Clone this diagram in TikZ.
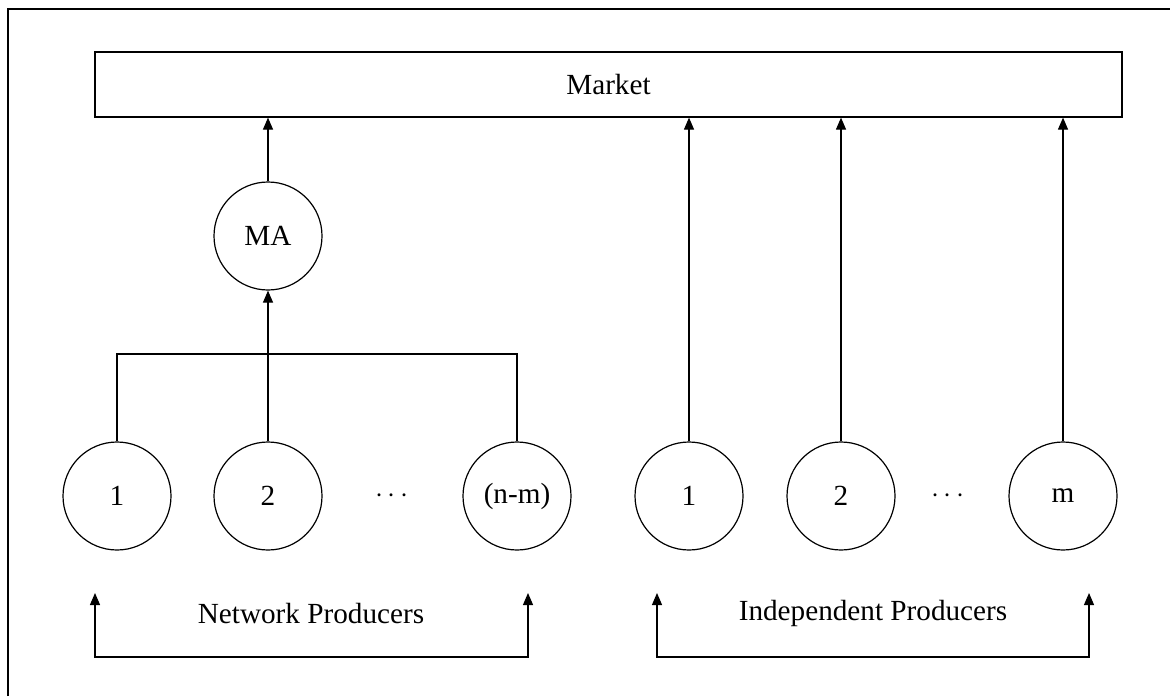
\documentclass[tikz,border=0pt]{standalone}
\usepackage{fontspec}
\setmainfont{Liberation Serif}
\usetikzlibrary{arrows.meta}
\tikzset{
  marketbox/.style={rectangle, draw, line width=0.6pt, minimum width=513.5pt, minimum height=32.5pt, inner sep=0pt, font=\fontsize{14.6}{16}\selectfont},
  agentnode/.style={circle, draw, line width=0.6pt, minimum size=54pt, inner sep=0pt, font=\fontsize{14.6}{16}\selectfont},
  plainlabel/.style={font=\fontsize{14.6}{16}\selectfont, inner sep=0pt},
  link/.style={line width=0.6pt},
  arrow/.style={-{Triangle[length=6pt,width=5pt]}, line width=0.6pt},
  bothways/.style={{Triangle[length=6pt,width=5pt]}-{Triangle[length=6pt,width=5pt]}, line width=0.6pt}
}
\begin{document}
\begin{tikzpicture}[x=0.5pt, y=-0.5pt]
  \useasboundingbox (0,0) rectangle (1170,696);
  % frame
  \draw[line width=1pt] (8,696) -- (8,9) -- (1170,9);

  % market and aggregator
  \node[marketbox] (market) at (608.5,84.5) {Market};
  \node[agentnode] (ma) at (268,236) {MA};

  % network producers
  \node[agentnode] (net1) at (117,496) {1};
  \node[agentnode] (net2) at (268,496) {2};
  \node[plainlabel] (netdots) at (392,496) {$\cdots$};
  \node[agentnode] (netnm) at (517,496) {(n-m)};

  % independent producers
  \node[agentnode] (ind1) at (689,496) {1};
  \node[agentnode] (ind2) at (841,496) {2};
  \node[plainlabel] (inddots) at (948,496) {$\cdots$};
  \node[agentnode] (indm) at (1063,496) {m};

  % links to the market
  \draw[arrow] (ma.north) -- (ma.north |- market.south);
  \draw[arrow] (ind1.north) -- (ind1.north |- market.south);
  \draw[arrow] (ind2.north) -- (ind2.north |- market.south);
  \draw[arrow] (indm.north) -- (indm.north |- market.south);

  % network producers join at MA
  \coordinate (join) at (268,354);
  \draw[link] (net1.north) |- (join) -| (netnm.north);
  \draw[arrow] (net2.north) -- (ma.south);

  % group brackets
  \coordinate (netL) at (95,593);
  \coordinate (netR) at (528,593);
  \coordinate (indL) at (657,593);
  \coordinate (indR) at (1089,593);
  \draw[bothways] (netL) -- ++(0,64) -| (netR);
  \draw[bothways] (indL) -- ++(0,64) -| (indR);
  \node[plainlabel] (netlabel) at (311,613) {Network Producers};
  \node[plainlabel] (indlabel) at (873,613) {Independent Producers};
\end{tikzpicture}
\end{document}
